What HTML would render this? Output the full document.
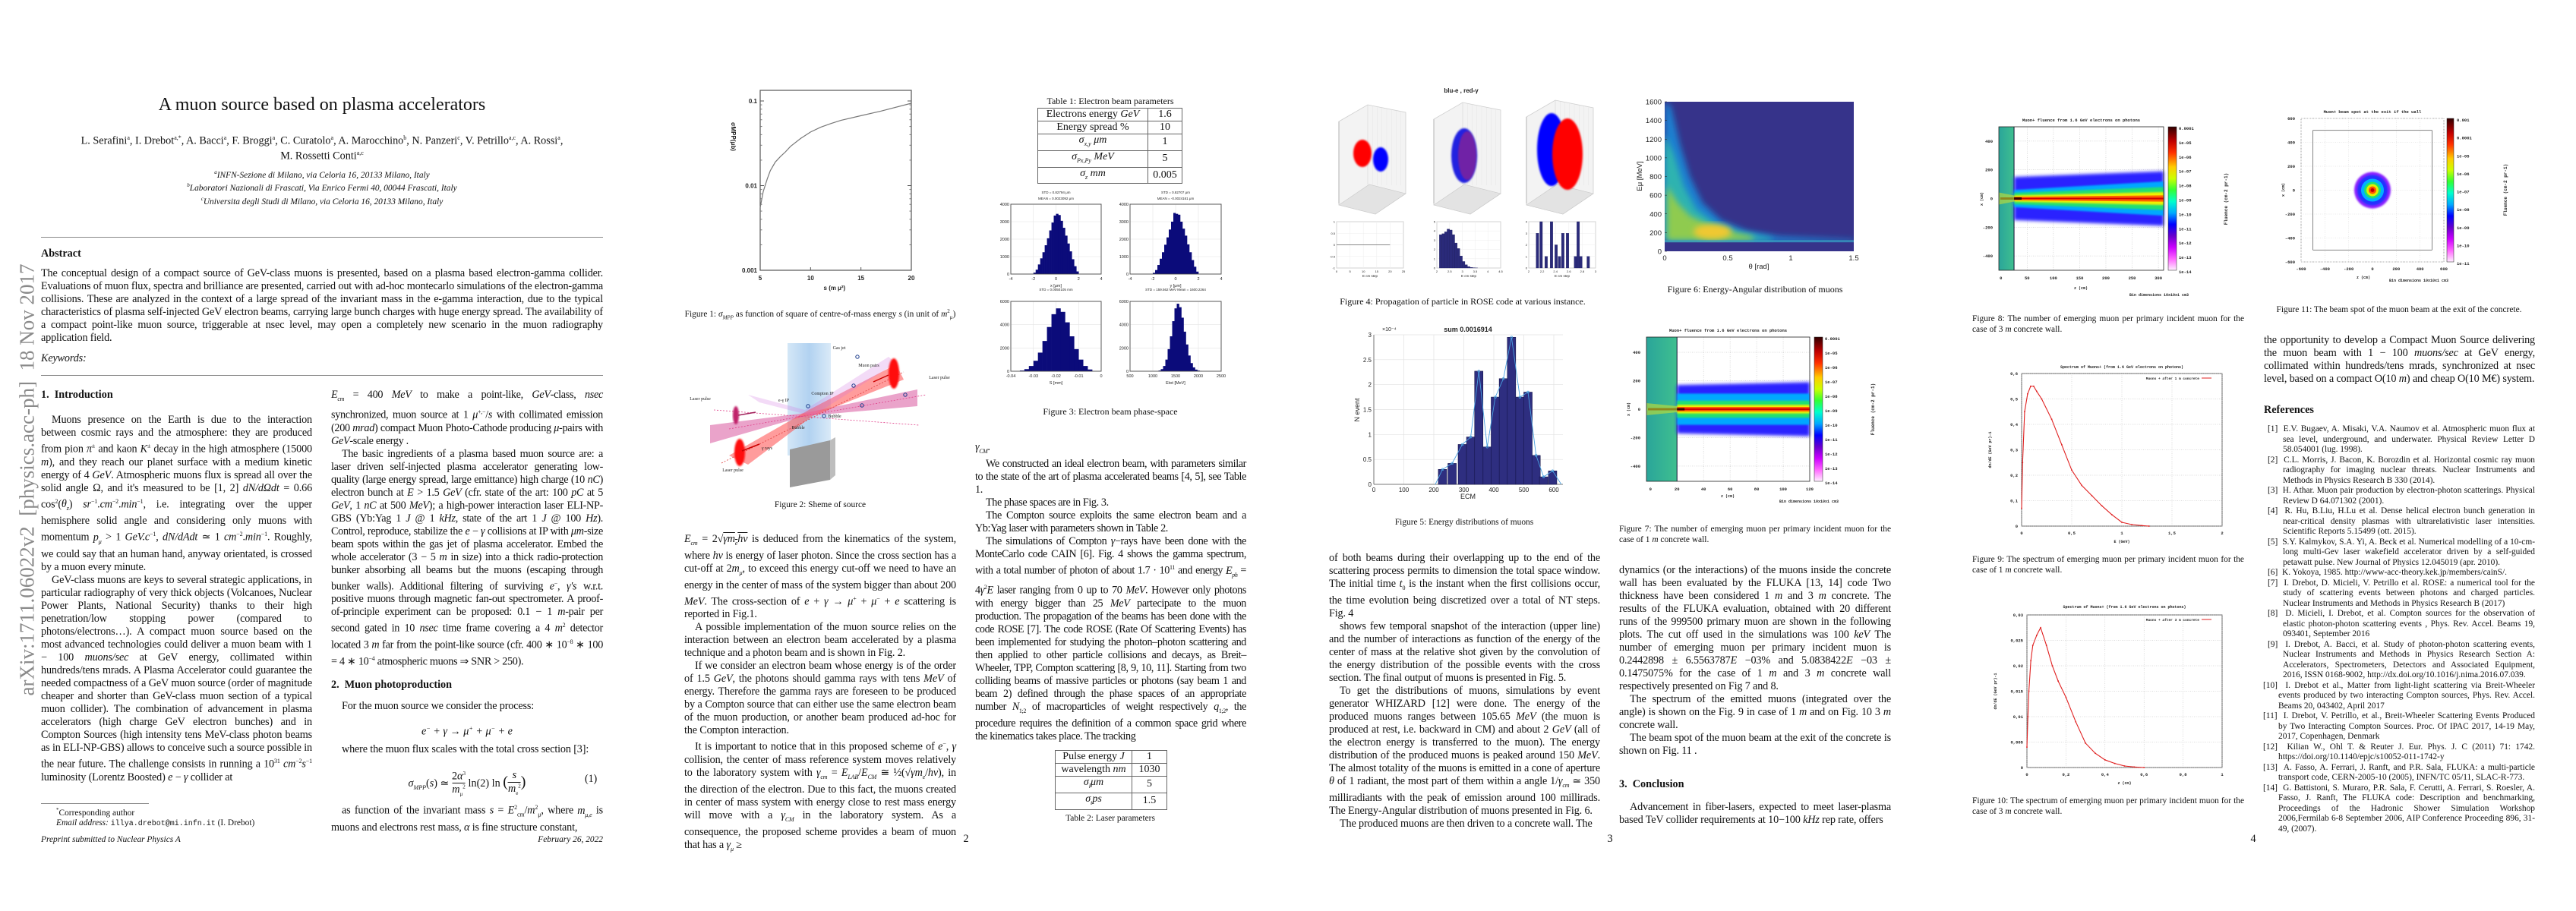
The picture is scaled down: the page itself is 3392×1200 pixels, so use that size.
<!DOCTYPE html>
<html lang="en"><head><meta charset="utf-8">
<style>
html,body{margin:0;padding:0;background:#fff;}
body{width:3392px;height:1200px;position:relative;overflow:hidden;font-family:"Liberation Serif",serif;color:#111;}
.t{position:absolute;font-size:14.2px;line-height:17px;text-align:justify;hyphens:auto;letter-spacing:-0.15px;}
.t p{margin:0;text-indent:14px;}
.t p.ni{text-indent:0;}
.h{position:absolute;font-size:14.2px;line-height:17px;font-weight:bold;}
.cap{position:absolute;font-size:11.4px;line-height:13.5px;text-align:justify;}
.capc{position:absolute;font-size:11.4px;line-height:13.5px;text-align:center;white-space:nowrap;transform:translateX(-50%);}
.ctr{position:absolute;white-space:nowrap;transform:translateX(-50%);text-align:center;}
.rule{position:absolute;height:0;border-top:1.5px solid #888;}
table.pt{position:absolute;border-collapse:collapse;font-size:14px;}
table.pt td{border:1.5px solid #666;text-align:center;padding:0 4px;height:16px;line-height:16px;}
.refs{position:absolute;font-size:11.4px;line-height:13.5px;text-align:justify;}
.refs div{padding-left:20px;text-indent:-20px;}
i{font-style:italic;}
</style></head>
<body>
<svg id="figs" width="3392" height="1200" style="position:absolute;left:0;top:0" xmlns="http://www.w3.org/2000/svg">
<defs>
<linearGradient id="cbar" x1="0" y1="0" x2="0" y2="1">
<stop offset="0" stop-color="#300000"/><stop offset="0.1" stop-color="#c00000"/><stop offset="0.18" stop-color="#ff3000"/><stop offset="0.28" stop-color="#ffcc00"/><stop offset="0.36" stop-color="#ccff00"/><stop offset="0.44" stop-color="#33ff33"/><stop offset="0.52" stop-color="#00ffcc"/><stop offset="0.6" stop-color="#00aaff"/><stop offset="0.68" stop-color="#0000ff"/><stop offset="0.76" stop-color="#6600cc"/><stop offset="0.84" stop-color="#cc00ff"/><stop offset="0.92" stop-color="#ff66ff"/><stop offset="1" stop-color="#fff0ff"/>
</linearGradient>
<linearGradient id="jet" x1="0" y1="0" x2="1" y2="0"><stop offset="0" stop-color="#cfe4f6"/><stop offset="0.5" stop-color="#a9cdef"/><stop offset="1" stop-color="#d6e8f7"/></linearGradient>
<linearGradient id="slab" x1="0" y1="0" x2="1" y2="0"><stop offset="0" stop-color="#2aa59a"/><stop offset="1" stop-color="#3fbf8f"/></linearGradient>
<filter id="blur4" x="-20%" y="-20%" width="140%" height="140%"><feGaussianBlur stdDeviation="4"/></filter>
<filter id="blur2" x="-20%" y="-20%" width="140%" height="140%"><feGaussianBlur stdDeviation="2"/></filter>
<filter id="blur1"><feGaussianBlur stdDeviation="1"/></filter>
</defs>
</svg>

<!-- ================= PAGE 1 ================= -->
<div style="position:absolute;left:36px;top:632px;transform:translate(-50%,-50%) rotate(-90deg);font-size:27px;color:#8a8a8a;white-space:nowrap;">arXiv:1711.06022v2&nbsp; [physics.acc-ph]&nbsp; 18 Nov 2017</div>

<div class="ctr" style="left:424px;top:124px;font-size:24px;line-height:28px;">A muon source based on plasma accelerators</div>
<div class="ctr" style="left:424px;top:174px;font-size:14.2px;line-height:16.5px;">L. Serafini<sup style="font-size:8px">a</sup>, I. Drebot<sup style="font-size:8px">a,*</sup>, A. Bacci<sup style="font-size:8px">a</sup>, F. Broggi<sup style="font-size:8px">a</sup>, C. Curatolo<sup style="font-size:8px">a</sup>, A. Marocchino<sup style="font-size:8px">b</sup>, N. Panzeri<sup style="font-size:8px">c</sup>, V. Petrillo<sup style="font-size:8px">a,c</sup>, A. Rossi<sup style="font-size:8px">a</sup>,<br>M. Rossetti Conti<sup style="font-size:8px">a,c</sup></div>
<div class="ctr" style="left:424px;top:221px;font-size:11.4px;line-height:13.5px;font-style:italic;"><sup style="font-size:7px">a</sup>INFN-Sezione di Milano, via Celoria 16, 20133 Milano, Italy<br><sup style="font-size:7px">b</sup>Laboratori Nazionali di Frascati, Via Enrico Fermi 40, 00044 Frascati, Italy<br><sup style="font-size:7px">c</sup>Universita degli Studi di Milano, via Celoria 16, 20133 Milano, Italy</div>
<div class="rule" style="left:54px;top:312px;width:740px;"></div>
<div class="h" style="left:54px;top:326px;">Abstract</div>
<div class="t" style="left:54px;top:352px;width:740px;"><p class="ni">The conceptual design of a compact source of GeV-class muons is presented, based on a plasma based electron-gamma collider. Evaluations of muon flux, spectra and brilliance are presented, carried out with ad-hoc montecarlo simulations of the electron-gamma collisions. These are analyzed in the context of a large spread of the invariant mass in the e-gamma interaction, due to the typical characteristics of plasma self-injected GeV electron beams, carrying large bunch charges with huge energy spread. The availability of a compact point-like muon source, triggerable at nsec level, may open a completely new scenario in the muon radiography application field.</p></div>
<div class="t" style="left:54px;top:464px;font-style:italic;">Keywords:</div>
<div class="rule" style="left:54px;top:494px;width:740px;"></div>
<div class="h" style="left:54px;top:512px;">1.&nbsp; Introduction</div>
<div class="t" style="left:54px;top:545px;width:357px;">
<p>Muons presence on the Earth is due to the interaction between cosmic rays and the atmosphere: they are produced from pion <i>π</i><sup style="font-size:8px">±</sup> and kaon <i>K</i><sup style="font-size:8px">±</sup> decay in the high atmosphere (15000 <i>m</i>), and they reach our planet surface with a medium kinetic energy of 4 <i>GeV</i>. Atmospheric muons flux is spread all over the solid angle Ω, and it's measured to be [1, 2] <i>dN/dΩdt</i> = 0.66 cos<sup style="font-size:8px">2</sup>(<i>θ<sub style="font-size:8px">z</sub></i>) <i>sr</i><sup style="font-size:8px">−1</sup>.<i>cm</i><sup style="font-size:8px">−2</sup>.<i>min</i><sup style="font-size:8px">−1</sup>, i.e. integrating over the upper hemisphere solid angle and considering only muons with momentum <i>p<sub style="font-size:8px">μ</sub></i> &gt; 1 <i>GeV.c</i><sup style="font-size:8px">−1</sup>, <i>dN/dAdt</i> ≃ 1 <i>cm</i><sup style="font-size:8px">−2</sup>.<i>min</i><sup style="font-size:8px">−1</sup>. Roughly, we could say that an human hand, anyway orientated, is crossed by a muon every minute.</p>
<p>GeV-class muons are keys to several strategic applications, in particular radiography of very thick objects (Volcanoes, Nuclear Power Plants, National Security) thanks to their high penetration/low stopping power (compared to photons/electrons…). A compact muon source based on the most advanced technologies could deliver a muon beam with 1 − 100 <i>muons/sec</i> at GeV energy, collimated within hundreds/tens mrads. A Plasma Accelerator could guarantee the needed compactness of a GeV muon source (order of magnitude cheaper and shorter than GeV-class muon section of a typical muon collider). The combination of advancement in plasma accelerators (high charge GeV electron bunches) and in Compton Sources (high intensity tens MeV-class photon beams as in ELI-NP-GBS) allows to conceive such a source possible in the near future. The challenge consists in running a 10<sup style="font-size:8px">31</sup> <i>cm</i><sup style="font-size:8px">−2</sup><i>s</i><sup style="font-size:8px">−1</sup> luminosity (Lorentz Boosted) <i>e</i> − <i>γ</i> collider at</p>
</div>
<div class="rule" style="left:54px;top:1058px;width:142px;border-top-width:1px;"></div>
<div class="cap" style="left:74px;top:1061px;width:340px;"><sup style="font-size:7px">*</sup>Corresponding author<br><i>Email address:</i> <span style="font-family:'Liberation Mono',monospace;font-size:10px">illya.drebot@mi.infn.it</span> (I. Drebot)</div>
<div class="cap" style="left:54px;top:1100px;font-style:italic;">Preprint submitted to Nuclear Physics A</div>
<div class="cap" style="left:694px;top:1100px;width:100px;text-align:right;font-style:italic;">February 26, 2022</div>

<div class="t" style="left:436px;top:512px;width:358px;letter-spacing:-0.3px;">
<p class="ni"><i>E<sub style="font-size:8px">cm</sub></i> = 400 <i>MeV</i> to make a point-like, <i>GeV</i>-class, <i>nsec</i> synchronized, muon source at 1 <i>μ</i><sup style="font-size:8px">+,−</sup>/<i>s</i> with collimated emission (200 <i>mrad</i>) compact Muon Photo-Cathode producing <i>μ</i>-pairs with <i>GeV</i>-scale energy .</p>
<p>The basic ingredients of a plasma based muon source are: a laser driven self-injected plasma accelerator generating low-quality (large energy spread, large emittance) high charge (10 <i>nC</i>) electron bunch at <i>E</i> &gt; 1.5 <i>GeV</i> (cfr. state of the art: 100 <i>pC</i> at 5 <i>GeV</i>, 1 <i>nC</i> at 500 <i>MeV</i>); a high-power interaction laser ELI-NP-GBS (Yb:Yag 1 <i>J</i> @ 1 <i>kHz</i>, state of the art 1 <i>J</i> @ 100 <i>Hz</i>). Control, reproduce, stabilize the <i>e</i> − <i>γ</i> collisions at IP with <i>μm</i>-size beam spots within the gas jet of plasma accelerator. Embed the whole accelerator (3 − 5 <i>m</i> in size) into a thick radio-protection bunker absorbing all beams but the muons (escaping through bunker walls). Additional filtering of surviving <i>e</i><sup style="font-size:8px">−</sup>, <i>γ′s</i> w.r.t. positive muons through magnetic fan-out spectrometer. A proof-of-principle experiment can be proposed: 0.1 − 1 <i>m</i>-pair per second gated in 10 <i>nsec</i> time frame covering a 4 <i>m</i><sup style="font-size:8px">2</sup> detector located 3 <i>m</i> far from the point-like source (cfr. 400 ∗ 10<sup style="font-size:8px">−8</sup> ∗ 100 = 4 ∗ 10<sup style="font-size:8px">−4</sup> atmospheric muons ⇒ SNR &gt; 250).</p>
</div>
<div class="h" style="left:436px;top:894px;">2.&nbsp; Muon photoproduction</div>
<div class="t" style="left:450px;top:922px;">For the muon source we consider the process:</div>
<div class="ctr" style="left:615px;top:955px;font-size:14.2px;font-style:italic;">e<sup style="font-size:8px">−</sup> + γ → μ<sup style="font-size:8px">+</sup> + μ<sup style="font-size:8px">−</sup> + e</div>
<div class="t" style="left:450px;top:979px;">where the muon flux scales with the total cross section [3]:</div>
<div class="ctr" style="left:615px;top:1012px;font-size:14.2px;line-height:15px;"><i>σ<sub style="font-size:8px">MPP</sub></i>(<i>s</i>) ≃ <span style="display:inline-block;vertical-align:middle;text-align:center;line-height:14px">2<i>α</i><sup style="font-size:7px">3</sup><br><span style="border-top:1px solid #111"><i>m</i><sub style="font-size:7px">μ</sub><sup style="font-size:7px">2</sup></span></span> ln(2) ln <span style="font-size:20px">(</span><span style="display:inline-block;vertical-align:middle;text-align:center;line-height:14px"><i>s</i><br><span style="border-top:1px solid #111"><i>m</i><sub style="font-size:7px">e</sub><sup style="font-size:7px">2</sup></span></span><span style="font-size:20px">)</span></div>
<div class="t" style="left:770px;top:1018px;">(1)</div>
<div class="t" style="left:436px;top:1055px;width:358px;"><p>as function of the invariant mass <i>s</i> = <i>E</i><sup style="font-size:8px">2</sup><sub style="font-size:8px">cm</sub>/<i>m</i><sup style="font-size:8px">2</sup><sub style="font-size:8px">μ</sub>, where <i>m<sub style="font-size:8px">μ,e</sub></i> is muons and electrons rest mass, <i>α</i> is fine structure constant,</p></div>

<!-- ================= PAGE 2 ================= -->
<div class="capc" style="left:1080px;top:404px;">Figure 1: <i>σ<sub style="font-size:7px">MPP</sub></i> as function of square of centre-of-mass energy <i>s</i> (in unit of <i>m</i><sup style="font-size:7px">2</sup><sub style="font-size:7px">μ</sub>)</div>
<div class="capc" style="left:1462px;top:127px;font-size:12px;">Table 1: Electron beam parameters</div>
<table class="pt" style="left:1366px;top:142px;width:191px;">
<tr><td style="width:136px">Electrons energy <i>GeV</i></td><td>1.6</td></tr>
<tr><td>Energy spread %</td><td>10</td></tr>
<tr><td><i>σ<sub style="font-size:8px">x,y</sub> μm</i></td><td>1</td></tr>
<tr><td><i>σ<sub style="font-size:8px">Px,Py</sub> MeV</i></td><td>5</td></tr>
<tr><td><i>σ<sub style="font-size:8px">z</sub> mm</i></td><td>0.005</td></tr>
</table>
<div class="capc" style="left:1462px;top:536px;font-size:12px;">Figure 3: Electron beam phase-space</div>
<div class="capc" style="left:1080px;top:659px;">Figure 2: Sheme of source</div>

<div class="t" style="left:901px;top:702px;width:358px;">
<p class="ni"><i>E<sub style="font-size:8px">cm</sub></i> = 2√<span style="text-decoration:overline"><i>γm<sub style="font-size:8px">e</sub>hν</i></span> is deduced from the kinematics of the system, where <i>hν</i> is energy of laser photon. Since the cross section has a cut-off at 2<i>m<sub style="font-size:8px">μ</sub></i>, to exceed this energy cut-off we need to have an energy in the center of mass of the system bigger than about 200 <i>MeV</i>. The cross-section of <i>e</i> + <i>γ</i> → <i>μ</i><sup style="font-size:8px">+</sup> + <i>μ</i><sup style="font-size:8px">−</sup> + <i>e</i> scattering is reported in Fig.1.</p>
<p>A possible implementation of the muon source relies on the interaction between an electron beam accelerated by a plasma technique and a photon beam and is shown in Fig. 2.</p>
<p>If we consider an electron beam whose energy is of the order of 1.5 <i>GeV</i>, the photons should gamma rays with tens <i>MeV</i> of energy. Therefore the gamma rays are foreseen to be produced by a Compton source that can either use the same electron beam of the muon production, or another beam produced ad-hoc for the Compton interaction.</p>
<p>It is important to notice that in this proposed scheme of <i>e</i><sup style="font-size:8px">−</sup>, <i>γ</i> collision, the center of mass reference system moves relatively to the laboratory system with <i>γ<sub style="font-size:8px">cm</sub></i> = <i>E<sub style="font-size:8px">LAB</sub></i>/<i>E<sub style="font-size:8px">CM</sub></i> ≅ ½(√<i>γm<sub style="font-size:8px">e</sub></i>/<i>hν</i>), in the direction of the electron. Due to this fact, the muons created in center of mass system with energy close to rest mass energy will move with a <i>γ<sub style="font-size:8px">CM</sub></i> in the laboratory system. As a consequence, the proposed scheme provides a beam of muon that has a <i>γ<sub style="font-size:8px">μ</sub></i> ≥</p>
</div>
<div class="t" style="left:1284px;top:581px;width:357px;letter-spacing:-0.4px;">
<p class="ni"><i>γ<sub style="font-size:8px">CM</sub></i>.</p>
<p>We constructed an ideal electron beam, with parameters similar to the state of the art of plasma accelerated beams [4, 5], see Table 1.</p>
<p>The phase spaces are in Fig. 3.</p>
<p>The Compton source exploits the same electron beam and a Yb:Yag laser with parameters shown in Table 2.</p>
<p>The simulations of Compton <i>γ</i>−rays have been done with the MonteCarlo code CAIN [6]. Fig. 4 shows the gamma spectrum, with a total number of photon of about 1.7 · 10<sup style="font-size:8px">11</sup> and energy <i>E<sub style="font-size:8px">ph</sub></i> = 4<i>γ</i><sup style="font-size:8px">2</sup><i>E</i> laser ranging from 0 up to 70 <i>MeV</i>. However only photons with energy bigger than 25 <i>MeV</i> partecipate to the muon production. The propagation of the beams has been done with the code ROSE [7]. The code ROSE (Rate Of Scattering Events) has been implemented for studying the photon–photon scattering and then applied to other particle collisions and decays, as Breit–Wheeler, TPP, Compton scattering [8, 9, 10, 11]. Starting from two colliding beams of massive particles or photons (say beam 1 and beam 2) defined through the phase spaces of an appropriate number <i>N</i><sub style="font-size:8px">1;2</sub> of macroparticles of weight respectively <i>q</i><sub style="font-size:8px">1;2</sub>, the procedure requires the definition of a common space grid where the kinematics takes place. The tracking</p>
</div>
<table class="pt" style="left:1389px;top:988px;width:148px;">
<tr><td style="width:92px">Pulse energy <i>J</i></td><td>1</td></tr>
<tr><td>wavelength <i>nm</i></td><td>1030</td></tr>
<tr><td><i>σ<sub style="font-size:8px">l</sub>μm</i></td><td>5</td></tr>
<tr><td><i>σ<sub style="font-size:8px">t</sub>ps</i></td><td>1.5</td></tr>
</table>
<div class="capc" style="left:1462px;top:1072px;">Table 2: Laser parameters</div>
<div class="ctr" style="left:1272px;top:1097px;font-size:14.2px;">2</div>

<!-- ================= PAGE 3 ================= -->
<div class="capc" style="left:1926px;top:391px;font-size:12px;">Figure 4: Propagation of particle in ROSE code at various instance.</div>
<div class="capc" style="left:2311px;top:375px;font-size:12px;">Figure 6: Energy-Angular distribution of muons</div>
<div class="capc" style="left:1928px;top:682px;">Figure 5: Energy distributions of muons</div>
<div class="cap" style="left:2132px;top:691px;width:358px;"><p style="margin:0;text-align-last:justify">Figure 7: The number of emerging muon per primary incident muon for the</p>case of 1 <i>m</i> concrete wall.</div>
<div class="t" style="left:1750px;top:727px;width:357px;">
<p class="ni">of both beams during their overlapping up to the end of the scattering process permits to dimension the total space window. The initial time <i>t</i><sub style="font-size:8px">0</sub> is the instant when the first collisions occur, the time evolution being discretized over a total of NT steps. Fig. 4</p>
<p>shows few temporal snapshot of the interaction (upper line) and the number of interactions as function of the energy of the center of mass at the relative shot given by the convolution of the energy distribution of the possible events with the cross section. The final output of muons is presented in Fig. 5.</p>
<p>To get the distributions of muons, simulations by event generator WHIZARD [12] were done. The energy of the produced muons ranges between 105.65 <i>MeV</i> (the muon is produced at rest, i.e. backward in CM) and about 2 <i>GeV</i> (all of the electron energy is transferred to the muon). The energy distribution of the produced muons is peaked around 150 <i>MeV</i>. The almost totality of the muons is emitted in a cone of aperture <i>θ</i> of 1 radiant, the most part of them within a angle 1/<i>γ<sub style="font-size:8px">cm</sub></i> ≃ 350 milliradiants with the peak of emission around 100 millirads. The Energy-Angular distribution of muons presented in Fig. 6.</p>
<p>The produced muons are then driven to a concrete wall. The</p>
</div>
<div class="t" style="left:2132px;top:743px;width:358px;">
<p class="ni">dynamics (or the interactions) of the muons inside the concrete wall has been evaluated by the FLUKA [13, 14] code Two thickness have been considered 1 <i>m</i> and 3 <i>m</i> concrete. The results of the FLUKA evaluation, obtained with 20 different runs of the 999500 primary muon are shown in the following plots. The cut off used in the simulations was 100 <i>keV</i> The number of emerging muon per primary incident muon is 0.2442898 ± 6.5563787<i>E</i> −03% and 5.0838422<i>E</i> −03 ± 0.1475075% for the case of 1 <i>m</i> and 3 <i>m</i> concrete wall respectively presented on Fig 7 and 8.</p>
<p>The spectrum of the emitted muons (integrated over the angle) is shown on the Fig. 9 in case of 1 <i>m</i> and on Fig. 10 3 <i>m</i> concrete wall.</p>
<p>The beam spot of the muon beam at the exit of the concrete is shown on Fig. 11 .</p>
</div>
<div class="h" style="left:2132px;top:1025px;">3.&nbsp; Conclusion</div>
<div class="t" style="left:2132px;top:1055px;width:358px;"><p>Advancement in fiber-lasers, expected to meet laser-plasma based TeV collider requirements at 10−100 <i>kHz</i> rep rate, offers</p></div>
<div class="ctr" style="left:2120px;top:1097px;font-size:14.2px;">3</div>

<!-- ================= PAGE 4 ================= -->
<div class="cap" style="left:2597px;top:414px;width:358px;"><p style="margin:0;text-align-last:justify">Figure 8: The number of emerging muon per primary incident muon for the</p>case of 3 <i>m</i> concrete wall.</div>
<div class="capc" style="left:3159px;top:402px;">Figure 11: The beam spot of the muon beam at the exit of the concrete.</div>
<div class="cap" style="left:2597px;top:731px;width:358px;"><p style="margin:0;text-align-last:justify">Figure 9: The spectrum of emerging muon per primary incident muon for the</p>case of 1 <i>m</i> concrete wall.</div>
<div class="cap" style="left:2597px;top:1049px;width:358px;"><p style="margin:0;text-align-last:justify">Figure 10: The spectrum of emerging muon per primary incident muon for the</p>case of 3 <i>m</i> concrete wall.</div>
<div class="t" style="left:2981px;top:440px;width:357px;"><p class="ni">the opportunity to develop a Compact Muon Source delivering the muon beam with 1 − 100 <i>muons/sec</i> at GeV energy, collimated within hundreds/tens mrads, synchronized at nsec level, based on a compact O(10 <i>m</i>) and cheap O(10 M€) system.</p></div>
<div class="h" style="left:2981px;top:532px;">References</div>
<div class="refs" style="left:2986px;top:559px;width:352px;">
<div>[1]&nbsp; E.V. Bugaev, A. Misaki, V.A. Naumov et al. Atmospheric muon flux at sea level, underground, and underwater. Physical Review Letter D 58.054001 (lug. 1998).</div>
<div>[2]&nbsp; C.L. Morris, J. Bacon, K. Borozdin et al. Horizontal cosmic ray muon radiography for imaging nuclear threats. Nuclear Instruments and Methods in Physics Research B 330 (2014).</div>
<div>[3]&nbsp; H. Athar. Muon pair production by electron-photon scatterings. Physical Review D 64.071302 (2001).</div>
<div>[4]&nbsp; R. Hu, B.Liu, H.Lu et al. Dense helical electron bunch generation in near-critical density plasmas with ultrarelativistic laser intensities. Scientific Reports 5.15499 (ott. 2015).</div>
<div>[5]&nbsp; S.Y. Kalmykov, S.A. Yi, A. Beck et al. Numerical modelling of a 10-cm-long multi-Gev laser wakefield accelerator driven by a self-guided petawatt pulse. New Journal of Physics 12.045019 (apr. 2010).</div>
<div>[6]&nbsp; K. Yokoya, 1985. http://www-acc-theory.kek.jp/members/cainS/.</div>
<div>[7]&nbsp; I. Drebot, D. Micieli, V. Petrillo et al. ROSE: a numerical tool for the study of scattering events between photons and charged particles. Nuclear Instruments and Methods in Physics Research B (2017)</div>
<div>[8]&nbsp; D. Micieli, I. Drebot, et al. Compton sources for the observation of elastic photon-photon scattering events , Phys. Rev. Accel. Beams 19, 093401, September 2016</div>
<div>[9]&nbsp; I. Drebot, A. Bacci, et al. Study of photon-photon scattering events, Nuclear Instruments and Methods in Physics Research Section A: Accelerators, Spectrometers, Detectors and Associated Equipment, 2016, ISSN 0168-9002, http://dx.doi.org/10.1016/j.nima.2016.07.039.</div>
<div style="margin-left:-6px">[10]&nbsp; I. Drebot et al., Matter from light-light scattering via Breit-Wheeler events produced by two interacting Compton sources, Phys. Rev. Accel. Beams 20, 043402, April 2017</div>
<div style="margin-left:-6px">[11]&nbsp; I. Drebot, V. Petrillo, et al., Breit-Wheeler Scattering Events Produced by Two Interacting Compton Sources. Proc. Of IPAC 2017, 14-19 May, 2017, Copenhagen, Denmark</div>
<div style="margin-left:-6px">[12]&nbsp; Kilian W., Ohl T. &amp; Reuter J. Eur. Phys. J. C (2011) 71: 1742. https://doi.org/10.1140/epjc/s10052-011-1742-y</div>
<div style="margin-left:-6px">[13]&nbsp; A. Fasso, A. Ferrari, J. Ranft, and P.R. Sala, FLUKA: a multi-particle transport code, CERN-2005-10 (2005), INFN/TC 05/11, SLAC-R-773.</div>
<div style="margin-left:-6px">[14]&nbsp; G. Battistoni, S. Muraro, P.R. Sala, F. Cerutti, A. Ferrari, S. Roesler, A. Fasso, J. Ranft, The FLUKA code: Description and benchmarking, Proceedings of the Hadronic Shower Simulation Workshop 2006,Fermilab 6-8 September 2006, AIP Conference Proceeding 896, 31-49, (2007).</div>
</div>
<div class="ctr" style="left:2967px;top:1097px;font-size:14.2px;">4</div>

<script>
/* ---------- DATA ---------- */
const fig1S=[5,5.3,5.7,6,6.5,7,7.5,8,9,10,11,12,13,15,17,20];
const fig1Sigma=[0.0055,0.0085,0.012,0.015,0.019,0.022,0.025,0.029,0.036,0.043,0.049,0.054,0.059,0.067,0.076,0.094];
const fig1XTicks=[5,10,15,20];
const fig1XTickLabels=['5','10','15','20'];
const fig1YTicks=[0.1,0.01,0.001];
const fig1YTickLabels=['0.1','0.01','0.001'];

const fig3XCenters=[-1.9,-1.7,-1.5,-1.3,-1.1,-0.9,-0.7,-0.5,-0.3,-0.1,0.1,0.3,0.5,0.7,0.9,1.1,1.3,1.5,1.7,1.9];
const fig3XCounts=[80,250,550,900,1250,1650,2050,2500,2950,3350,3450,3380,3050,2650,2200,1750,1300,850,450,150];
const fig3YCounts=[70,230,520,880,1250,1680,2100,2550,3000,3500,3450,3400,3000,2600,2200,1700,1250,800,420,140];
const fig3SCenters=[-0.035,-0.033,-0.031,-0.029,-0.027,-0.025,-0.023,-0.021,-0.019,-0.017,-0.015,-0.013,-0.011,-0.009,-0.007,-0.005];
const fig3SCounts=[60,180,450,900,1600,2600,3800,4900,5400,5100,4200,3000,1900,1000,450,150];
const fig3ECenters=[1150,1200,1250,1300,1350,1400,1450,1500,1550,1600,1650,1700,1750,1800,1850,1900,1950,2000,2050];
const fig3ECounts=[60,180,450,1000,1900,3000,4300,5400,5800,5500,4600,3400,2300,1350,700,330,140,60,20];
const fig3XTickLabels=['-4','-2','0','2','4'];
const fig3XTicks=[-4,-2,0,2,4];
const fig3YTicks4k=[0,1000,2000,3000,4000];
const fig3YTicks6k=[0,2000,4000,6000];
const fig3STicks=[-0.04,-0.03,-0.02,-0.01,0];
const fig3ETicks=[500,1000,1500,2000,2500];

const fig4MidCenters=[2.15,2.25,2.35,2.45,2.55,2.65,2.75,2.85,2.95,3.05,3.15,3.25,3.35,3.45,3.55];
const fig4MidValues=[3.6,3.7,3.9,4.2,4.1,3.6,2.7,2.1,1.3,0.7,0.35,0.15,0.06,0.03,0.01];
const fig4RightCenters=[2.13,2.185,2.26,2.34,2.41,2.46,2.51,2.58,2.70,2.74,2.78,2.89];
const fig4RightValues=[3,4,1,4,2,1,3,3,1,4,1,1];

const fig5Energy=[229,261,295,323,350,378,405,432,459,487,514,541,566,596];
const fig5Events=[0.3,0.42,0.8,0.95,2.27,0.75,1.75,2.12,2.95,1.75,1.85,0.58,0.15,0.27];
const fig5XTicks=[0,100,200,300,400,500,600];
const fig5YTicks=[0,0.5,1,1.5,2,2.5,3];

const fig9Energy=[0,0.01,0.03,0.06,0.09,0.12,0.15,0.2,0.3,0.4,0.5,0.6,0.7,0.8,0.9,1.0,1.1,1.2,1.27];
const fig9Flux=[0.07,0.25,0.45,0.52,0.55,0.55,0.53,0.5,0.42,0.32,0.22,0.16,0.12,0.08,0.045,0.015,0.006,0.002,0];
const fig9XTicks=[0,0.5,1,1.5,2];
const fig9YTicks=[0,0.1,0.2,0.3,0.4,0.5,0.6];
const fig10Z=[0,0.005,0.01,0.02,0.03,0.05,0.07,0.1,0.13,0.16,0.2,0.25,0.3,0.35,0.4,0.45,0.5,0.55,0.6];
const fig10Flux=[0.004,0.01,0.015,0.021,0.024,0.026,0.0275,0.024,0.02,0.017,0.0138,0.009,0.0048,0.0028,0.0015,0.0008,0.0003,0.0001,0];
const fig10XTicks=[0,0.2,0.4,0.6,0.8,1];
const fig10YTicks=[0,0.005,0.01,0.015,0.02,0.025,0.03];

const cbarLabels14=['0.0001','1e-05','1e-06','1e-07','1e-08','1e-09','1e-10','1e-11','1e-12','1e-13','1e-14'];
const cbarLabels11=['0.001','0.0001','1e-05','1e-06','1e-07','1e-08','1e-09','1e-10','1e-11'];

/* ---------- HELPERS ---------- */
const NS='http://www.w3.org/2000/svg';
const root=document.getElementById('figs');
function mk(tag,a,p){const e=document.createElementNS(NS,tag);for(const k in a)e.setAttribute(k,a[k]);(p||root).appendChild(e);return e;}
function tx(p,x,y,s,size,anchor,fam,weight){const t=mk('text',{x:x,y:y,'font-size':size,'text-anchor':anchor||'middle','font-family':fam||'Liberation Sans, sans-serif','font-weight':weight||'normal',fill:'#222'},p);t.textContent=s;return t;}
function lin(d0,d1,r0,r1){return v=>r0+(v-d0)*(r1-r0)/(d1-d0);}
function grp(name){const g=mk('g',{});return g;}
const MONO='Liberation Mono, monospace';

/* ---------- FIG 1 ---------- */
(function(){
const g=grp('fig1-cross-section-chart');
const X0=1001,X1=1200,Y0=119,Y1=356;
const fx=lin(5,20,X0,X1);
const fy=v=>Y1-(Math.log10(v)+3)*111.5;
mk('rect',{x:X0,y:Y0,width:X1-X0,height:Y1-Y0,fill:'none',stroke:'#555','stroke-width':1.2},g);
fig1XTicks.forEach((v,i)=>{mk('line',{x1:fx(v),x2:fx(v),y1:Y1,y2:Y1-4,stroke:'#555'},g);tx(g,fx(v),369,fig1XTickLabels[i],8,'middle',null,'bold');});
fig1YTicks.forEach((v,i)=>{mk('line',{x1:X0,x2:X0+5,y1:fy(v),y2:fy(v),stroke:'#555'},g);mk('line',{x1:X1,x2:X1-5,y1:fy(v),y2:fy(v),stroke:'#555'},g);tx(g,X0-4,fy(v)+3,fig1YTickLabels[i],8,'end',null,'bold');});
[0.001,0.01].forEach(d=>{for(let m=2;m<10;m++){const y=fy(d*m);mk('line',{x1:X0,x2:X0+2.5,y1:y,y2:y,stroke:'#777'},g);mk('line',{x1:X1,x2:X1-2.5,y1:y,y2:y,stroke:'#777'},g);}});
tx(g,1101,382,'s (m',8,'end',null,'bold');
tx(g,1103,382,'μ²)',8,'start',null,'bold');
const yl=tx(g,963,180,'σ',8,'middle',null,'bold');yl.setAttribute('transform','rotate(90 963 180)');yl.textContent='σMPP(μb)';
const pts=fig1S.map((s,i)=>fx(s)+','+fy(fig1Sigma[i])).join(' ');
const c=mk('polyline',{points:pts,fill:'none',stroke:'#777','stroke-width':1.2},g);


})();

/* ---------- FIG 2 (scheme) ---------- */
(function(){
const g=grp('fig2-source-scheme');
mk('polygon',{points:'1037,452 1094,452 1094,600 1037,600',fill:'url(#jet)',opacity:0.9},g);
mk('polygon',{points:'1040,592 1093,580 1093,632 1040,642',fill:'#9a9a9a'},g);
mk('polygon',{points:'1093,580 1100,576 1100,626 1093,632',fill:'#bdbdbd'},g);
mk('polygon',{points:'935,560 935,584 1060,548 1208,535 1208,513 1060,544',fill:'#e58cbd',opacity:0.8},g);
mk('polygon',{points:'960,600 985,612 1070,548 1190,500 1180,480 1065,540',fill:'#ff4a4a',opacity:0.55},g);
mk('polygon',{points:'985,520 1000,530 1070,548 1180,478 1170,470 1060,540',fill:'#d070e0',opacity:0.25},g);
mk('line',{x1:960,y1:565,x2:1220,y2:520,stroke:'#e0408a','stroke-dasharray':'2,2','stroke-width':0.8},g);
mk('line',{x1:940,y1:540,x2:1210,y2:560,stroke:'#e0408a','stroke-dasharray':'2,2','stroke-width':0.8},g);
mk('line',{x1:950,y1:610,x2:1190,y2:490,stroke:'#e04040','stroke-dasharray':'2,2','stroke-width':0.8},g);
mk('ellipse',{cx:1177,cy:492,rx:7,ry:20,fill:'#ff1010',filter:'url(#blur1)'},g);
mk('ellipse',{cx:974,cy:596,rx:7,ry:18,fill:'#ff1010',filter:'url(#blur1)'},g);
mk('ellipse',{cx:969,cy:547,rx:4,ry:12,fill:'#c0206a',filter:'url(#blur1)'},g);
mk('line',{x1:1170,y1:494,x2:1150,y2:503,stroke:'#c00','stroke-width':1.5},g);
mk('line',{x1:977,y1:594,x2:1000,y2:585,stroke:'#c00','stroke-width':1.5},g);
mk('line',{x1:972,y1:547,x2:995,y2:543,stroke:'#a0205a','stroke-width':1.5},g);
[[1064,535],[1124,508],[1129,470],[1085,548],[1135,534],[1192,520]].forEach(p=>{mk('circle',{cx:p[0],cy:p[1],r:2.2,fill:'none',stroke:'#1a3a8a','stroke-width':1},g);});
[['Gas jet',1105,460],['Muon pairs',1144,483],['Laser pulse',1237,499],['Compton IP',1083,520],['Laser pulse',922,527],['e-γ IP',1032,529],['Bubble',1099,550],['Bubble',1051,565],['γ rays',1010,592],['Laser pulse',965,621]].forEach(l=>tx(g,l[1],l[2],l[0],6,'middle','Liberation Serif, serif'));
})();

/* ---------- FIG 3 ---------- */
function drawHist(name,X0,X1,Y0,Y1,xd0,xd1,yd1,centers,counts,bw,xt,xtl,yt,xlab,t1,t2){
  const g=grp(name);
  const fx=lin(xd0,xd1,X0,X1), fy=lin(0,yd1,Y1,Y0);
  mk('rect',{x:X0,y:Y0,width:X1-X0,height:Y1-Y0,fill:'#fff',stroke:'#444','stroke-width':0.8},g);
  xt.forEach((v,i)=>{mk('line',{x1:fx(v),x2:fx(v),y1:Y0,y2:Y1,stroke:'#e4e4e4','stroke-width':0.6},g);tx(g,fx(v),Y1+8,xtl[i],5.5,'middle');});
  yt.forEach(v=>{mk('line',{x1:X0,x2:X1,y1:fy(v),y2:fy(v),stroke:'#e4e4e4','stroke-width':0.6},g);tx(g,X0-2,fy(v)+2,String(v),5.5,'end');});
  centers.forEach((c,i)=>{
    const r=mk('rect',{x:fx(c-bw/2),y:fy(counts[i]),width:Math.abs(fx(c+bw/2)-fx(c-bw/2))+0.3,height:Y1-fy(counts[i]),fill:'#0b0b7a'},g);
    
    
  });
  mk('rect',{x:X0,y:Y0,width:X1-X0,height:Y1-Y0,fill:'none',stroke:'#444','stroke-width':0.8},g);
  tx(g,(X0+X1)/2,Y1+17,xlab,5.5,'middle');
  tx(g,(X0+X1)/2,Y0-14,t1,4.5,'middle');
  if(t2)tx(g,(X0+X1)/2,Y0-6,t2,4.5,'middle');
}
drawHist('fig3-x-histogram',1331,1450,269,361,-4,4,4000,fig3XCenters,fig3XCounts,0.2,fig3XTicks,fig3XTickLabels,fig3YTicks4k,'x [μm]','STD = 0.82794 μm','MEAN = 0.0023092 μm');
drawHist('fig3-y-histogram',1488,1608,269,361,-4,4,4000,fig3XCenters,fig3YCounts,0.2,fig3XTicks,fig3XTickLabels,fig3YTicks4k,'y [μm]','STD = 0.82707 μm','MEAN = -0.0024161 μm');
drawHist('fig3-s-histogram',1331,1450,397,489,-0.04,0,6000,fig3SCenters,fig3SCounts,0.002,fig3STicks,['-0.04','-0.03','-0.02','-0.01','0'],fig3YTicks6k,'S [mm]','STD = 0.0050105 mm',null);
drawHist('fig3-energy-histogram',1488,1608,397,489,500,2500,6000,fig3ECenters,fig3ECounts,50,fig3ETicks,['500','1000','1500','2000','2500'],fig3YTicks6k,'Etot [MeV]','STD = 159.562 MeV  Mean = 1600.2264',null);

/* ---------- FIG 4 ---------- */
(function(){
const g=grp('fig4-rose-snapshots');
tx(g,1924,122,'blu-e , red-γ',8,'middle',null,'bold');
[1761,1886,2008].forEach((x0,k)=>{
  const top=138-k*3;
  const bx=mk('polygon',{points:(x0+2)+',245 '+(x0+2)+','+(top+22)+' '+(x0+40)+','+top+' '+(x0+90)+','+(top+10)+' '+(x0+90)+',255 '+(x0+50)+',282 '+(x0+2)+',270',fill:'#f3f3f3',stroke:'#cfcfcf','stroke-width':0.8},g);
  
  
  mk('polygon',{points:(x0+2)+',270 '+(x0+50)+',282 '+(x0+90)+',255 '+(x0+42)+',243',fill:'#e3e3e3',stroke:'#c8c8c8','stroke-width':0.6},g);
  for(let j=1;j<8;j++){mk('line',{x1:x0+40+j*6.25,y1:top+j*1.3,x2:x0+40+j*6.25,y2:244,stroke:'#e2e2e2','stroke-width':0.4},g);}
  mk('line',{x1:x0+40,y1:top,x2:x0+40,y2:243,stroke:'#d0d0d0','stroke-width':0.5},g);
  mk('line',{x1:x0+2,y1:top+22,x2:x0+2,y2:268,stroke:'#aaa','stroke-width':0.8},g);
});
mk('ellipse',{cx:1794,cy:202,rx:12,ry:18,fill:'#ff0000',filter:'url(#blur1)'},g);
mk('ellipse',{cx:1818,cy:210,rx:10,ry:16,fill:'#0000ff',filter:'url(#blur1)'},g);
mk('ellipse',{cx:1928,cy:205,rx:17,ry:36,fill:'#2020e0',filter:'url(#blur1)'},g);
mk('ellipse',{cx:1932,cy:205,rx:12,ry:32,fill:'#d02060',opacity:0.45,filter:'url(#blur1)'},g);
mk('ellipse',{cx:2043,cy:197,rx:19,ry:48,fill:'#0000ff',filter:'url(#blur1)'},g);
mk('ellipse',{cx:2064,cy:203,rx:20,ry:47,fill:'#ff0000',filter:'url(#blur1)'},g);
function small(X0,X1,xd0,xd1,yd0,yd1,xt,yt,centers,vals,bw){
  const Y0=292,Y1=353;const fx=lin(xd0,xd1,X0,X1),fy=lin(yd0,yd1,Y1,Y0);
  mk('rect',{x:X0,y:Y0,width:X1-X0,height:Y1-Y0,fill:'#fff',stroke:'#888','stroke-width':0.6},g);
  xt.forEach(v=>{mk('line',{x1:fx(v),x2:fx(v),y1:Y0,y2:Y1,stroke:'#eee','stroke-width':0.5},g);tx(g,fx(v),Y1+6,String(v),4,'middle');});
  yt.forEach(v=>{mk('line',{x1:X0,x2:X1,y1:fy(v),y2:fy(v),stroke:'#eee','stroke-width':0.5},g);tx(g,X0-2,fy(v)+1.5,String(v),4,'end');});
  if(centers){centers.forEach((c,i)=>{const r=mk('rect',{x:fx(c-bw/2),y:fy(vals[i]),width:fx(c+bw/2)-fx(c-bw/2),height:Y1-fy(vals[i]),fill:'#2a2a7a',stroke:'#1a1a5a','stroke-width':0.3},g);
    
    });}
  tx(g,(X0+X1)/2,Y1+12,'E cm step',4.5,'middle');
  return [fx,fy];
}
const s1=small(1760,1848,0,25,-1,1,[0,5,10,15,20,25],[-1,-0.5,0,0.5,1],null,null,0);
mk('line',{x1:s1[0](0),x2:s1[0](20),y1:s1[1](0),y2:s1[1](0),stroke:'#666','stroke-width':0.8},g);
small(1892,1976,2,4.5,0,5,[2,2.5,3,3.5,4,4.5],[0,1,2,3,4,5],fig4MidCenters,fig4MidValues,0.1);
small(2013,2101,2,3,0,4,[2,2.2,2.4,2.6,2.8,3],[0,1,2,3,4],fig4RightCenters,fig4RightValues,0.04);
})();

/* ---------- FIG 5 ---------- */
(function(){
const g=grp('fig5-muon-energy-chart');
const X0=1809,X1=2058,Y0=441,Y1=638;
const fx=lin(0,600,1809,2046), fy=lin(0,3,Y1,Y0);
mk('rect',{x:X0,y:Y0,width:X1-X0,height:Y1-Y0,fill:'#fff'},g);
fig5XTicks.forEach(v=>{mk('line',{x1:fx(v),x2:fx(v),y1:Y0,y2:Y1,stroke:'#e2e2e2','stroke-width':0.7},g);tx(g,fx(v),Y1+10,String(v),8,'middle');});
fig5YTicks.forEach(v=>{mk('line',{x1:X0,x2:X1,y1:fy(v),y2:fy(v),stroke:'#e2e2e2','stroke-width':0.7},g);tx(g,X0-3,fy(v)+3,String(v),8,'end');});
mk('line',{x1:X0,x2:X0,y1:Y0,y2:Y1,stroke:'#555','stroke-width':0.8},g);
mk('line',{x1:X0,x2:X1,y1:Y1,y2:Y1,stroke:'#555','stroke-width':0.8},g);
fig5Energy.forEach((e,i)=>{const r=mk('rect',{x:fx(e)-5.5,y:fy(fig5Events[i]),width:11,height:Y1-fy(fig5Events[i]),fill:'#2e2e80',stroke:'#15154a','stroke-width':0.6},g);
  
  });
const pts=[fx(205)+','+fy(0)].concat(fig5Energy.map((e,i)=>fx(e)+','+fy(fig5Events[i]))).concat([fx(625)+','+fy(0)]).join(' ');
mk('polyline',{points:pts,fill:'none',stroke:'#4aa0e0','stroke-width':0.9},g);
fig5Energy.forEach((e,i)=>mk('circle',{cx:fx(e),cy:fy(fig5Events[i]),r:1.4,fill:'none',stroke:'#4aa0e0','stroke-width':0.7},g));
tx(g,1933,437,'sum 0.0016914',9,'middle',null,'bold');
tx(g,1820,436,'×10⁻⁴',7,'start');
const yl=tx(g,1790,540,'N event',9,'middle');yl.setAttribute('transform','rotate(-90 1790 540)');
tx(g,1933,657,'ECM',9,'middle');
})();

/* ---------- FIG 6 ---------- */
(function(){
const g=grp('fig6-energy-angle-map');
const X0=2192,X1=2441,Y0=134,Y1=331;
const fx=lin(0,1.5,X0,X1), fy=lin(0,1600,Y1,Y0);
const cp=mk('clipPath',{id:'f6clip'},g);mk('rect',{x:X0,y:Y0,width:X1-X0,height:Y1-Y0},cp);
mk('rect',{x:X0,y:Y0,width:X1-X0,height:Y1-Y0,fill:'#36338a'},g);
const inner=mk('g',{'clip-path':'url(#f6clip)'},g);
const P=a=>a.map(p=>fx(p[0])+','+fy(p[1])).join(' ');
mk('polygon',{points:P([[0,1600],[0.05,1550],[0.12,1150],[0.2,800],[0.3,520],[0.45,330],[0.65,220],[0.9,160],[1.5,125],[1.5,100],[0,100]]),fill:'#1d7fd0',filter:'url(#blur4)'},inner);
mk('polygon',{points:P([[0,1250],[0.07,1050],[0.15,700],[0.25,450],[0.4,300],[0.6,200],[0.85,140],[0.85,115],[0,115]]),fill:'#2fb3b0',filter:'url(#blur4)'},inner);
mk('polygon',{points:P([[0.02,700],[0.1,520],[0.2,380],[0.35,280],[0.55,200],[0.7,160],[0.7,120],[0.02,120]]),fill:'#8fcb50',filter:'url(#blur4)'},inner);
mk('ellipse',{cx:fx(0.38),cy:fy(210),rx:25,ry:10,fill:'#f0c830',filter:'url(#blur4)'},inner);
mk('rect',{x:X0,y:fy(120),width:X1-X0,height:3,fill:'#3aa0c0',opacity:0.7},inner);
mk('rect',{x:X0,y:fy(95),width:X1-X0,height:fy(0)-fy(95),fill:'#36338a'},inner);
[0,200,400,600,800,1000,1200,1400,1600].forEach(v=>{mk('line',{x1:X0,x2:X0+3,y1:fy(v),y2:fy(v),stroke:'#222','stroke-width':0.5},g);tx(g,X0-4,fy(v)+3.5,String(v),9.5,'end');});
[[0,'0'],[0.5,'0.5'],[1,'1'],[1.5,'1.5']].forEach(t=>tx(g,fx(t[0]),343,t[1],9.5,'middle'));
tx(g,2316,354,'θ [rad]',9.5,'middle');
const yl=tx(g,2162,232,'Eμ [MeV]',9.5,'middle');yl.setAttribute('transform','rotate(-90 2162 232)');
})();

/* ---------- fluence maps (fig 7 / 8) ---------- */
function fluence(name,X0,X1,Y0,Y1,zd0,zd1,xd,slabEnd,zTicks,xTicks,titleY,title,cbX,spread){
  const g=grp(name);
  const fz=lin(zd0,zd1,X0,X1), fxx=lin(-xd,xd,Y1,Y0);
  mk('rect',{x:X0,y:Y0,width:X1-X0,height:Y1-Y0,fill:'#fff'},g);
  zTicks.forEach(v=>{mk('line',{x1:fz(v),x2:fz(v),y1:Y0,y2:Y1,stroke:'#bbb','stroke-dasharray':'1,1.5','stroke-width':0.5},g);tx(g,fz(v),Y1+12,String(v),5.5,'middle',MONO,'bold');});
  xTicks.forEach(v=>{mk('line',{x1:X0,x2:X1,y1:fxx(v),y2:fxx(v),stroke:'#bbb','stroke-dasharray':'1,1.5','stroke-width':0.5},g);tx(g,X0-8,fxx(v)+2,String(v),5.5,'end',MONO,'bold');});
  mk('rect',{x:X0,y:Y0,width:fz(slabEnd)-X0,height:Y1-Y0,fill:'url(#slab)'},g);
  mk('line',{x1:fz(slabEnd),x2:fz(slabEnd),y1:Y0,y2:Y1,stroke:'#113','stroke-width':1},g);
  const zs=fz(slabEnd), ze=X1, yc=fxx(0);
  const layers=[['#2a22ff',spread[0],spread[1],'url(#blur2)'],['#00a8ff',spread[2],spread[3],'url(#blur1)'],['#20e070',spread[4],spread[5],'url(#blur1)'],['#f0f000',spread[6],spread[7],'url(#blur1)'],['#ff6000',spread[8],spread[9],null],['#d00000',spread[10],spread[11],null]];
  layers.forEach(L=>{const h0=fxx(0)-fxx(L[1]),h1=fxx(0)-fxx(L[2]);const p=mk('polygon',{points:zs+','+(yc-h0)+' '+ze+','+(yc-h1)+' '+ze+','+(yc+h1)+' '+zs+','+(yc+h0),fill:L[0]},g);if(L[3])p.setAttribute('filter',L[3]);});
  mk('rect',{x:fz(zd0)+2,y:yc-1.5,width:zs-fz(zd0)+8,height:3,fill:'#3a0000'},g);
  mk('polygon',{points:X0+','+(yc-8)+' '+zs+','+(yc-4)+' '+zs+','+(yc+4)+' '+X0+','+(yc+8),fill:'#c8e030',opacity:0.6},g);
  mk('rect',{x:X0,y:Y0,width:X1-X0,height:Y1-Y0,fill:'none',stroke:'#222','stroke-width':0.8},g);
  mk('rect',{x:cbX,y:Y0,width:11,height:Y1-Y0,fill:'url(#cbar)',stroke:'#222','stroke-width':0.5},g);
  cbarLabels14.forEach((l,i)=>tx(g,cbX+14,Y0+4+i*(Y1-Y0)/10,l,5.5,'start',MONO,'bold'));
  tx(g,(X0+X1)/2,titleY,title,5.5,'middle',MONO,'bold');
  return g;
}
(function(){
const g=fluence('fig7-fluence-1m',2168,2383,444,634,-3,120,507,20,[0,20,40,60,80,100,120],[400,200,0,-200,-400],437,'Muon+ fluence from 1.6 GeV electrons on photons',2389,[170,190,110,110,60,60,30,30,16,16,6,6]);
tx(g,2275,655,'z (cm)',5,'middle',MONO,'bold');
tx(g,2382,662,'Bin dimensions 10x10x1 cm3',5,'middle',MONO,'bold');
const a=tx(g,2146,539,'x (cm)',5,'middle',MONO,'bold');a.setAttribute('transform','rotate(-90 2146 539)');
const b=tx(g,2468,539,'Fluence (cm-2 pr-1)',6,'middle',MONO,'bold');b.setAttribute('transform','rotate(-90 2468 539)');
})();
(function(){
const g=fluence('fig8-fluence-3m',2632,2849,167,356,-4,310,500,25,[0,50,100,150,200,250,300],[400,200,0,-200,-400],160,'Muon+ fluence from 1.6 GeV electrons on photons',2855,[150,190,60,120,40,80,22,45,12,22,4,6]);
tx(g,2740,381,'z (cm)',5,'middle',MONO,'bold');
tx(g,2843,390,'Bin dimensions 10x10x1 cm3',5,'middle',MONO,'bold');
const a=tx(g,2611,262,'x (cm)',5,'middle',MONO,'bold');a.setAttribute('transform','rotate(-90 2611 262)');
const b=tx(g,2933,262,'Fluence (cm-2 pr-1)',6,'middle',MONO,'bold');b.setAttribute('transform','rotate(-90 2933 262)');
})();

/* ---------- FIG 11 ---------- */
(function(){
const g=grp('fig11-beam-spot');
const X0=3030,X1=3218,Y0=156,Y1=345;
const fz=lin(-600,600,X0,X1), fx=lin(-600,600,Y1,Y0);
mk('rect',{x:X0,y:Y0,width:X1-X0,height:Y1-Y0,fill:'#fff',stroke:'#555','stroke-dasharray':'1,1','stroke-width':0.6},g);
[-600,-400,-200,0,200,400,600].forEach(v=>{mk('line',{x1:fz(v),x2:fz(v),y1:Y0,y2:Y1,stroke:'#ccc','stroke-dasharray':'1,1.5','stroke-width':0.4},g);mk('line',{x1:X0,x2:X1,y1:fx(v),y2:fx(v),stroke:'#ccc','stroke-dasharray':'1,1.5','stroke-width':0.4},g);tx(g,fz(v),356,String(v),5.5,'middle',MONO,'bold');tx(g,X0-8,fx(v)+2,String(v),5.5,'end',MONO,'bold');});
mk('rect',{x:fz(-500),y:fx(500),width:fz(500)-fz(-500),height:fx(-500)-fx(500),fill:'none',stroke:'#333','stroke-width':0.6},g);
const cx=fz(0),cy=fx(0);
[[24,'#8a20ff'],[20,'#2030ff'],[15,'#00b0ff'],[11,'#20e070'],[8,'#e0f000'],[5,'#ff5000'],[2.5,'#c00000']].forEach(c=>{const ci=mk('circle',{cx:cx,cy:cy,r:c[0],fill:c[1]},g);if(c[0]>19)ci.setAttribute('filter','url(#blur1)');});
mk('rect',{x:3222,y:Y0,width:9,height:Y1-Y0,fill:'url(#cbar)',stroke:'#222','stroke-width':0.5},g);
cbarLabels11.forEach((l,i)=>tx(g,3235,Y0+4+i*(Y1-Y0)/8,l,5.5,'start',MONO,'bold'));
tx(g,3124,149,'Muon+ beam spot at the exit if the wall',5.5,'middle',MONO,'bold');
tx(g,3112,367,'z (cm)',5,'middle',MONO,'bold');
tx(g,3185,371,'Bin dimensions 10x10x1 cm3',5,'middle',MONO,'bold');
const a=tx(g,3008,250,'x (cm)',5,'middle',MONO,'bold');a.setAttribute('transform','rotate(-90 3008 250)');
const b=tx(g,3301,250,'Fluence (cm-2 pr-1)',6,'middle',MONO,'bold');b.setAttribute('transform','rotate(-90 3301 250)');
})();

/* ---------- FIG 9 / 10 spectra ---------- */
function spectrum(name,X0,X1,Y0,Y1,xd1,yd1,xt,yt,xs,ys,legend,titleY,xlab){
  const g=grp(name);
  const fx=lin(0,xd1,X0,X1), fy=lin(0,yd1,Y1,Y0);
  mk('rect',{x:X0,y:Y0,width:X1-X0,height:Y1-Y0,fill:'#fff',stroke:'#333','stroke-width':0.8},g);
  xt.forEach(v=>{mk('line',{x1:fx(v),x2:fx(v),y1:Y0,y2:Y1,stroke:'#bbb','stroke-dasharray':'1,1.5','stroke-width':0.5},g);tx(g,fx(v),Y1+11,String(v).replace('.',','),5.5,'middle',MONO,'bold');});
  yt.forEach(v=>{mk('line',{x1:X0,x2:X1,y1:fy(v),y2:fy(v),stroke:'#bbb','stroke-dasharray':'1,1.5','stroke-width':0.5},g);tx(g,X0-5,fy(v)+2,String(v).replace('.',','),5.5,'end',MONO,'bold');});
  const pts=xs.map((v,i)=>fx(v)+','+fy(ys[i])).join(' ');
  const l=mk('polyline',{points:pts,fill:'none',stroke:'#e02020','stroke-width':1.1},g);
  
  
  xs.forEach((v,i)=>mk('rect',{x:fx(v)-0.8,y:fy(ys[i])-0.8,width:1.6,height:1.6,fill:'#e02020'},g));
  tx(g,X1-30,Y0+8,legend,4.5,'end',MONO,'bold');
  mk('line',{x1:X1-27,x2:X1-14,y1:Y0+6,y2:Y0+6,stroke:'#e02020','stroke-width':1},g);
  tx(g,(X0+X1)/2,titleY,'Spectrum of Muons+ (from 1.6 GeV electrons on photons)',5,'middle',MONO,'bold');
  tx(g,(X0+X1)/2,Y1+22,xlab,5,'middle',MONO,'bold');
  const a=tx(g,X0-40,(Y0+Y1)/2,'dn/dE (GeV pr)-1',5,'middle',MONO,'bold');a.setAttribute('transform','rotate(-90 '+(X0-40)+' '+(Y0+Y1)/2+')');
}
spectrum('fig9-spectrum-1m',2662,2926,492,693,2,0.6,fig9XTicks,fig9YTicks,fig9Energy,fig9Flux,'Muons + after 1 m concrete',485,'E (GeV)');
spectrum('fig10-spectrum-3m',2669,2926,810,1011,1,0.03,fig10XTicks,fig10YTicks,fig10Z,fig10Flux,'Muons + after 3 m concrete',801,'z (cm)');
</script>
</body></html>
